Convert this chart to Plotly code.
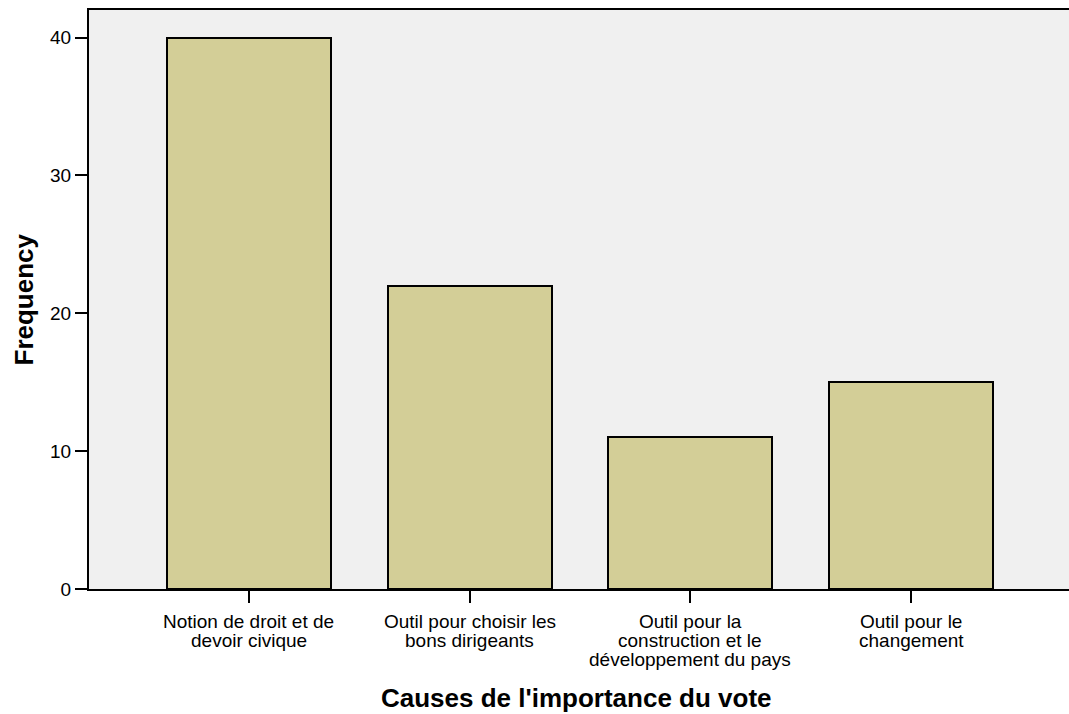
import plotly.graph_objects as go

categories = ["Notion de droit et de devoir civique",
              "Outil pour choisir les bons dirigeants",
              "Outil pour la construction et le développement du pays",
              "Outil pour le changement"]
label_lines = [["Notion de droit et de", "devoir civique"],
               ["Outil pour choisir les", "bons dirigeants"],
               ["Outil pour la", "construction et le", "développement du pays"],
               ["Outil pour le", "changement"]]
frequencies = [40, 22, 11, 15]
y_ticks = [0, 10, 20, 30, 40]

FONT = "Liberation Sans, Arial, sans-serif"

fig = go.Figure()
fig.add_trace(go.Bar(
    x=categories, y=frequencies, width=0.743,
    marker=dict(color="#D3CE97", line=dict(color="black", width=2)),
    hoverinfo="x+y",
))

annotations = []
for cat, lines in zip(categories, label_lines):
    for i, line in enumerate(lines):
        annotations.append(dict(
            x=cat, xref="x", y=0, yref="paper", yanchor="top",
            yshift=-(20 + i * 19), text=line, showarrow=False,
            font=dict(family=FONT, size=19, color="black"),
        ))
annotations.append(dict(
    x=0.5, xref="paper", y=0, yref="paper", yanchor="top", yshift=-92,
    xshift=-3, text="<b>Causes de l'importance du vote</b>", showarrow=False,
    font=dict(family=FONT, size=26, color="black"),
))
annotations.append(dict(
    x=0, xref="paper", y=0.5, yref="paper", xanchor="center", xshift=-66,
    text="<b>Frequency</b>", textangle=-90, showarrow=False,
    font=dict(family=FONT, size=26, color="black"),
))

fig.update_layout(
    width=1069, height=714,
    margin=dict(l=89, r=0, t=10, b=125),
    paper_bgcolor="white", plot_bgcolor="#F0F0F0",
    showlegend=False,
    bargap=0,
    annotations=annotations,
    font=dict(family=FONT, size=19, color="black"),
)
fig.update_xaxes(
    type="category", range=[-0.725, 3.716],
    showline=True, linecolor="black", linewidth=2, mirror=True,
    ticks="outside", ticklen=12, tickwidth=2, tickcolor="black",
    showticklabels=False, showgrid=False, zeroline=False,
)
fig.update_yaxes(
    range=[0, 42], tickvals=y_ticks,
    showline=True, linecolor="black", linewidth=2,
    ticks="outside", ticklen=12, tickwidth=2, tickcolor="black",
    tickfont=dict(family=FONT, size=19, color="black"),
    showgrid=False, zeroline=False,
)

fig.write_html("out.html", config={"displayModeBar": False},
               post_script="document.body.style.margin='0';document.body.style.overflow='hidden';")
